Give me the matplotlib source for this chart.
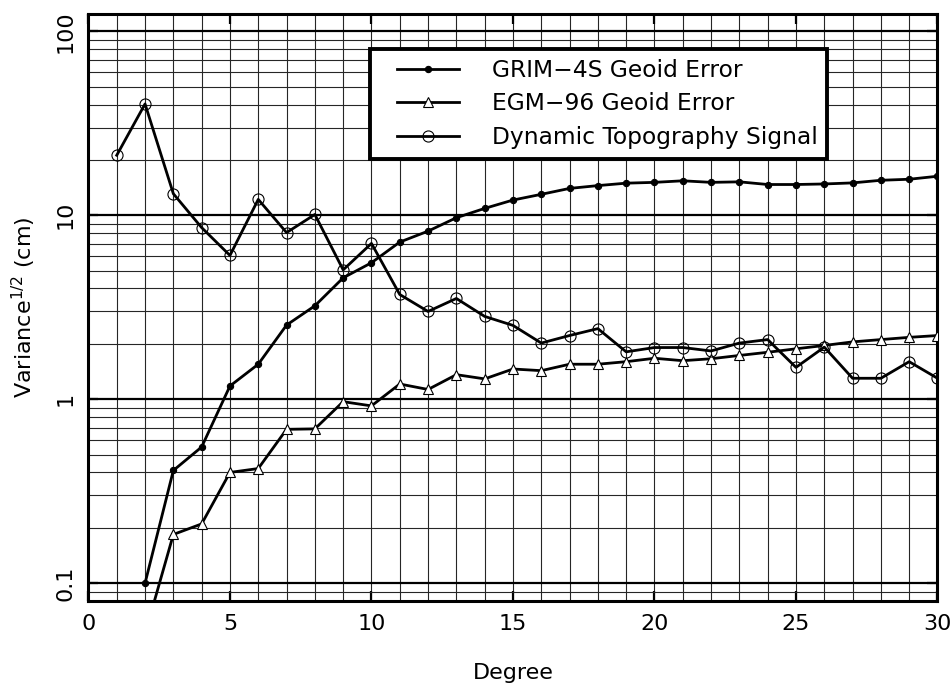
import matplotlib.pyplot as plt
import numpy as np
from matplotlib.ticker import MultipleLocator, LogLocator, FixedLocator, NullFormatter
from matplotlib.legend_handler import HandlerLine2D

# spectral degree and variance^(1/2) in cm
degree = np.arange(1, 31)

grim4s_deg = np.arange(2, 31)
grim4s = [0.10, 0.41, 0.55, 1.18, 1.55, 2.53, 3.22, 4.57, 5.52, 7.15,
          8.2, 9.7, 10.9, 12.1, 13.0, 14.0, 14.5, 14.95, 15.1, 15.4,
          15.1, 15.2, 14.7, 14.7, 14.8, 15.0, 15.5, 15.7, 16.3]

egm96_deg = np.arange(2, 31)
egm96 = [0.053, 0.184, 0.21, 0.40, 0.42, 0.686, 0.69, 0.97, 0.92, 1.21,
         1.13, 1.36, 1.29, 1.46, 1.43, 1.55, 1.55, 1.60, 1.67, 1.62,
         1.66, 1.73, 1.80, 1.88, 1.96, 2.05, 2.11, 2.17, 2.22]

dyntopo = [21.2, 40.3, 13.1, 8.57, 6.05, 12.2, 8.05, 10.1, 5.05, 7.03,
           3.71, 3.0, 3.53, 2.82, 2.52, 2.02, 2.22, 2.42, 1.81, 1.91,
           1.91, 1.83, 2.02, 2.11, 1.49, 1.92, 1.30, 1.30, 1.60, 1.30]

plt.rcParams['font.family'] = 'DejaVu Sans'
plt.rcParams['font.size'] = 16

fig = plt.figure(figsize=(9.51, 6.86), dpi=100, facecolor='white')
ax = fig.add_axes([0.093, 0.1239, 0.8928, 0.8564])

ax.plot(grim4s_deg, grim4s, color='black', linewidth=2.0, marker='o',
        markersize=4.5, markerfacecolor='black', markeredgewidth=0.8,
        label='GRIM\u22124S Geoid Error', zorder=5)
ax.plot(egm96_deg, egm96, color='black', linewidth=2.0, marker='^',
        markersize=7.5, markerfacecolor='white', markeredgewidth=0.8,
        label='EGM\u221296 Geoid Error', zorder=5)
ax.plot(degree, dyntopo, color='black', linewidth=2.0, marker='o',
        markersize=8, markerfacecolor='none', markeredgewidth=0.8,
        label='Dynamic Topography Signal', zorder=5)

ax.set_yscale('log')
ax.set_xlim(0, 30)
ax.set_ylim(0.08, 125)

ax.xaxis.set_major_locator(MultipleLocator(5))
ax.xaxis.set_minor_locator(MultipleLocator(1))
ax.yaxis.set_major_locator(FixedLocator([0.1, 1, 10, 100]))
ax.set_yticklabels(['0.1', '1', '10', '100'], rotation=90, va='center')
ax.yaxis.set_minor_locator(LogLocator(base=10, subs=np.arange(2, 10)))
ax.yaxis.set_minor_formatter(NullFormatter())

ax.tick_params(which='major', direction='in', length=7, width=1.6,
               top=True, right=True, pad=9, labelsize=16)
ax.tick_params(which='minor', length=0)

ax.grid(True, which='minor', axis='both', color='0.15', linewidth=0.8)
ax.grid(True, which='major', axis='x', color='0.15', linewidth=0.8)
ax.grid(True, which='major', axis='y', color='black', linewidth=1.6)
ax.set_axisbelow(True)

for spine in ax.spines.values():
    spine.set_linewidth(2.2)

ax.set_xlabel('Degree', fontsize=16, labelpad=21)
ax.set_ylabel('Variance$^{1/2}$ (cm)', fontsize=16, labelpad=13)

# indent the legend samples so the box has a wider left margin
handler = HandlerLine2D(xpad=0.75)
legend = ax.legend(loc='upper left', bbox_to_anchor=(0.3316, 0.9396),
                   borderaxespad=0, fancybox=False, framealpha=1,
                   handlelength=3.4, handletextpad=1.4, borderpad=0.42,
                   labelspacing=0.45, fontsize=16.8,
                   handler_map={plt.Line2D: handler})
legend.get_frame().set_edgecolor('black')
legend.get_frame().set_linewidth(2.8)
legend.set_zorder(10)

fig.savefig('out.png', dpi=100)
